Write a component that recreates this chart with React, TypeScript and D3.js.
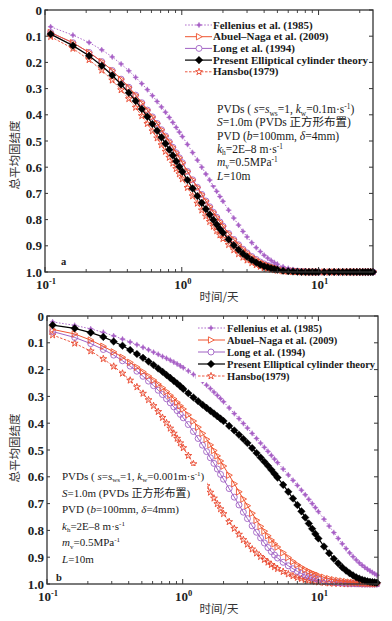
import React from "react";
import * as d3 from "d3";

// ---------- data ----------
const TIMES = [
  0.11, 0.16, 0.21, 0.26, 0.31, 0.36, 0.41, 0.46, 0.51, 0.56, 0.61, 0.66, 0.71, 0.76, 0.81, 0.86, 0.91, 0.96, 1.01,
  1.1, 1.2, 1.3, 1.4, 1.5, 1.6, 1.7, 1.8, 1.9, 2.0,
  2.2, 2.4, 2.6, 2.8, 3.0,
  3.25, 3.5, 3.75, 4.0, 4.25, 4.5, 4.75, 5.0,
  5.5, 6, 6.5, 7, 7.5, 8, 8.5, 9, 9.5, 10,
  11, 12, 13, 14, 15, 16, 17, 18, 19, 20, 21, 22, 23, 24, 25, 26, 27,
];

const LEGEND_LABELS = [
  "Fellenius et al. (1985)",
  "Abuel–Naga et al. (2009)",
  "Long et al. (1994)",
  "Present Elliptical cylinder theory",
  "Hansbo(1979)",
];

const Y_TICKS = [0, 0.1, 0.2, 0.3, 0.4, 0.5, 0.6, 0.7, 0.8, 0.9, 1.0];
const Y_TICK_LABELS = ["0", "0.1", "0.2", "0.3", "0.4", "0.5", "0.6", "0.7", "0.8", "0.9", "1.0"];
const X_MAJOR_TICKS = [0.1, 1, 10];
const X_MAJOR_EXPONENTS = ["-1", "0", "1"];

// panel a (k_w = 0.1 m/s)
const A_FELLENIUS = [
  0.064, 0.096, 0.124, 0.152, 0.179, 0.206, 0.232, 0.257, 0.281, 0.304, 0.327, 0.349, 0.370, 0.390, 0.410, 0.429, 0.448, 0.466, 0.483,
  0.513, 0.544, 0.573, 0.600, 0.626, 0.649, 0.672, 0.692, 0.712, 0.730,
  0.764, 0.794, 0.821, 0.845, 0.866,
  0.888, 0.907, 0.922, 0.936, 0.947, 0.956, 0.964, 0.970,
  0.980, 0.986, 0.991, 0.994, 0.996, 0.997, 0.998, 0.999, 0.999, 1,
  1, 1, 1, 1, 1, 1, 1, 1, 1, 1, 1, 1, 1, 1, 1, 1, 1,
];
const A_ABUEL = [
  0.086, 0.125, 0.162, 0.197, 0.231, 0.264, 0.295, 0.325, 0.354, 0.382, 0.408, 0.433, 0.457, 0.481, 0.503, 0.524, 0.545, 0.564, 0.583,
  0.616, 0.648, 0.677, 0.704, 0.729, 0.751, 0.772, 0.791, 0.809, 0.825,
  0.853, 0.876, 0.896, 0.913, 0.927,
  0.941, 0.952, 0.962, 0.969, 0.975, 0.980, 0.984, 0.987,
  0.992, 0.995, 0.996, 0.998, 0.999, 0.999, 1, 1, 1, 1,
  1, 1, 1, 1, 1, 1, 1, 1, 1, 1, 1, 1, 1, 1, 1, 1, 1,
];
const A_LONG = [
  0.086, 0.125, 0.162, 0.197, 0.231, 0.264, 0.295, 0.325, 0.354, 0.382, 0.408, 0.433, 0.457, 0.481, 0.503, 0.524, 0.545, 0.564, 0.583,
  0.616, 0.648, 0.677, 0.704, 0.729, 0.751, 0.772, 0.791, 0.809, 0.825,
  0.853, 0.876, 0.896, 0.913, 0.927,
  0.941, 0.952, 0.962, 0.969, 0.975, 0.980, 0.984, 0.987,
  0.992, 0.995, 0.996, 0.998, 0.999, 0.999, 1, 1, 1, 1,
  1, 1, 1, 1, 1, 1, 1, 1, 1, 1, 1, 1, 1, 1, 1, 1, 1,
];
const A_PRESENT = [
  0.092, 0.136, 0.175, 0.213, 0.249, 0.284, 0.316, 0.347, 0.378, 0.407, 0.435, 0.461, 0.486, 0.510, 0.533, 0.555, 0.577, 0.598, 0.617,
  0.649, 0.681, 0.710, 0.736, 0.760, 0.781, 0.801, 0.819, 0.836, 0.850,
  0.876, 0.898, 0.915, 0.930, 0.942,
  0.954, 0.964, 0.972, 0.978, 0.982, 0.986, 0.989, 0.991,
  0.995, 0.997, 0.998, 0.999, 1, 1, 1, 1, 1, 1,
  1, 1, 1, 1, 1, 1, 1, 1, 1, 1, 1, 1, 1, 1, 1, 1, 1,
];
const A_HANSBO = [
  0.102, 0.147, 0.190, 0.230, 0.268, 0.305, 0.339, 0.372, 0.404, 0.434, 0.462, 0.489, 0.515, 0.540, 0.563, 0.585, 0.606, 0.626, 0.645,
  0.678, 0.710, 0.738, 0.764, 0.787, 0.808, 0.826, 0.843, 0.859, 0.873,
  0.896, 0.916, 0.931, 0.944, 0.955,
  0.965, 0.973, 0.979, 0.984, 0.987, 0.990, 0.992, 0.994,
  0.997, 0.998, 0.999, 0.999, 1, 1, 1, 1, 1, 1,
  1, 1, 1, 1, 1, 1, 1, 1, 1, 1, 1, 1, 1, 1, 1, 1, 1,
];

// panel b (k_w = 0.001 m/s)
const B_FELLENIUS = [
  0.022, 0.035, 0.048, 0.061, 0.074, 0.086, 0.097, 0.107, 0.117, 0.126, 0.135, 0.143, 0.151, 0.158, 0.165, 0.172, 0.179, 0.186, 0.193,
  0.205, 0.218, 0.231, 0.244, 0.258, 0.271, 0.284, 0.296, 0.308, 0.320,
  0.343, 0.364, 0.383, 0.401, 0.418,
  0.438, 0.457, 0.474, 0.490, 0.505, 0.520, 0.534, 0.547,
  0.571, 0.593, 0.613, 0.632, 0.650, 0.667, 0.684, 0.700, 0.715, 0.730,
  0.758, 0.784, 0.808, 0.830, 0.850, 0.868, 0.884, 0.898, 0.910, 0.921, 0.930, 0.938, 0.945, 0.951, 0.957, 0.962, 0.967,
];
const B_ABUEL = [
  0.050, 0.067, 0.090, 0.113, 0.134, 0.154, 0.173, 0.191, 0.208, 0.224, 0.239, 0.254, 0.268, 0.282, 0.296, 0.309, 0.322, 0.335, 0.347,
  0.369, 0.392, 0.415, 0.438, 0.460, 0.481, 0.502, 0.522, 0.541, 0.560,
  0.594, 0.626, 0.656, 0.683, 0.708,
  0.736, 0.762, 0.785, 0.803, 0.820, 0.836, 0.850, 0.862,
  0.883, 0.901, 0.916, 0.928, 0.938, 0.946, 0.953, 0.959, 0.964, 0.968,
  0.975, 0.980, 0.984, 0.987, 0.989, 0.991, 0.993, 0.994, 0.995, 0.996, 0.997, 0.997, 0.998, 0.998, 0.999, 0.999, 0.999,
];
const B_LONG = [
  0.058, 0.080, 0.103, 0.125, 0.146, 0.167, 0.187, 0.206, 0.225, 0.243, 0.260, 0.277, 0.293, 0.309, 0.324, 0.339, 0.353, 0.367, 0.380,
  0.405, 0.431, 0.457, 0.482, 0.506, 0.529, 0.550, 0.571, 0.591, 0.609,
  0.644, 0.676, 0.705, 0.732, 0.756,
  0.783, 0.807, 0.828, 0.847, 0.864, 0.879, 0.892, 0.903,
  0.919, 0.932, 0.943, 0.953, 0.961, 0.967, 0.972, 0.976, 0.980, 0.983,
  0.988, 0.991, 0.993, 0.995, 0.996, 0.997, 0.998, 0.998, 0.999, 0.999, 1, 1, 1, 1, 1, 1, 1,
];
const B_PRESENT = [
  0.034, 0.046, 0.062, 0.078, 0.095, 0.111, 0.127, 0.142, 0.156, 0.170, 0.183, 0.196, 0.208, 0.220, 0.231, 0.242, 0.252, 0.262, 0.272,
  0.288, 0.304, 0.318, 0.331, 0.343, 0.354, 0.364, 0.374, 0.383, 0.392,
  0.410, 0.427, 0.443, 0.459, 0.474,
  0.493, 0.511, 0.528, 0.544, 0.559, 0.574, 0.589, 0.603,
  0.630, 0.656, 0.681, 0.705, 0.729, 0.752, 0.774, 0.794, 0.813, 0.830,
  0.860, 0.885, 0.906, 0.923, 0.938, 0.950, 0.960, 0.968, 0.975, 0.980, 0.984, 0.987, 0.990, 0.992, 0.993, 0.994, 0.995,
];
const B_HANSBO = [
  0.071, 0.102, 0.131, 0.160, 0.188, 0.214, 0.240, 0.265, 0.289, 0.313, 0.335, 0.357, 0.379, 0.399, 0.419, 0.438, 0.457, 0.474, 0.492,
  0.521, 0.552, 0.582, 0.609, 0.634, 0.658, 0.680, 0.701, 0.720, 0.738,
  0.768, 0.793, 0.815, 0.835, 0.852,
  0.870, 0.885, 0.898, 0.909, 0.919, 0.928, 0.936, 0.943,
  0.954, 0.963, 0.970, 0.976, 0.980, 0.984, 0.987, 0.989, 0.991, 0.993,
  0.995, 0.997, 0.998, 0.998, 0.999, 1, 1, 1, 1, 1, 1, 1, 1, 1, 1, 1, 1,
];

// ---------- styling ----------
type MarkerKind = "spark" | "tri" | "circle" | "diamond" | "star";
interface SeriesStyle {
  color: string;
  dash: string | null;
  width: number;
  marker: MarkerKind;
  r: number;
  filled: boolean;
}
const STYLES: SeriesStyle[] = [
  { color: "#a75fc6", dash: "1.6,1.6", width: 0.9, marker: "spark", r: 2.8, filled: true },
  { color: "#ef5530", dash: null, width: 1.0, marker: "tri", r: 3.2, filled: false },
  { color: "#a062c4", dash: null, width: 1.0, marker: "circle", r: 3.0, filled: false },
  { color: "#000000", dash: null, width: 1.2, marker: "diamond", r: 3.8, filled: true },
  { color: "#e9452b", dash: "2.5,1.5", width: 0.9, marker: "star", r: 3.6, filled: false },
];
const DRAW_ORDER = [4, 2, 1, 0, 3];

const SERIF = "'Liberation Serif', 'Times New Roman', 'Noto Sans CJK SC', serif";
const CJK = "'Noto Sans CJK SC', sans-serif";

function markerD(kind: MarkerKind, r: number): string {
  switch (kind) {
    case "spark":
      return `M0,${-r}L${r * 0.32},${-r * 0.32}L${r},0L${r * 0.32},${r * 0.32}L0,${r}L${-r * 0.32},${r * 0.32}L${-r},0L${-r * 0.32},${-r * 0.32}Z`;
    case "tri":
      return `M${-r * 0.8},${-r}L${r},0L${-r * 0.8},${r}Z`;
    case "circle":
      return `M${r},0A${r},${r} 0 1,1 ${-r},0A${r},${r} 0 1,1 ${r},0Z`;
    case "diamond":
      return `M0,${-r}L${r},0L0,${r}L${-r},0Z`;
    case "star":
    default:
      return d3.symbol().type(d3.symbolStar).size((r * r) / 0.8908)() || "";
  }
}

type Seg = [string, string?];
function RichText({ x, y, segs, size }: { x: number; y: number; segs: Seg[]; size: number }) {
  let cur = 0;
  const out: React.ReactNode[] = [];
  segs.forEach(([txt, st], i) => {
    const target = st === "sub" ? size * 0.22 : st === "sup" ? -size * 0.36 : 0;
    const dy = target - cur;
    cur = target;
    out.push(
      <tspan
        key={i}
        dy={dy || undefined}
        fontSize={st === "sub" || st === "sup" ? size * 0.64 : size}
        fontStyle={st === "i" ? "italic" : "normal"}
      >
        {txt}
      </tspan>
    );
  });
  return (
    <text x={x} y={y} fontFamily={SERIF} fontSize={size} fill="#1a1a1a">
      {out}
    </text>
  );
}

function noteLines(kw: string): Seg[][] {
  return [
    [["PVDs ( "], ["s", "i"], ["="], ["s", "i"], ["ws", "sub"], ["=1, "], ["k", "i"], ["w", "sub"], [`=${kw}m·s`], ["-1", "sup"], [")"]],
    [["S", "i"], ["=1.0m (PVDs  正方形布置)"]],
    [["PVD ("], ["b", "i"], ["=100mm, "], ["δ", "i"], ["=4mm)"]],
    [["k", "i"], ["h", "sub"], ["=2E–8 m·s"], ["-1", "sup"]],
    [["m", "i"], ["v", "sub"], ["=0.5MPa"], ["-1", "sup"]],
    [["L", "i"], ["=10m"]],
  ];
}

interface PanelCfg {
  tag: string;
  x0: number; x1: number; y0: number; y1: number; tMax: number;
  series: number[][];
  legend: { x0: number; x1: number; xm: number; tx: number; y: number; dy: number; fs: number; box: number[] };
  note: { x: number; y: number; dy: number; kw: string; box: number[]; fs: number };
  tagPos: [number, number];
  yLabelY: number;
  xLabelY: number;
}

const PANELS: PanelCfg[] = [
  {
    tag: "a", x0: 45, x1: 373, y0: 10, y1: 272, tMax: 25,
    series: [A_FELLENIUS, A_ABUEL, A_LONG, A_PRESENT, A_HANSBO],
    legend: { x0: 185, x1: 212, xm: 199, tx: 213, y: 25, dy: 11.7, fs: 11, box: [184, 17, 188, 62] },
    note: { x: 217, y: 113, dy: 13.3, kw: "0.1", box: [213, 101, 158, 84], fs: 11.5 },
    tagPos: [61, 264.5], yLabelY: 155, xLabelY: 301,
  },
  {
    tag: "b", x0: 47, x1: 378, y0: 316, y1: 584, tMax: 27.5,
    series: [B_FELLENIUS, B_ABUEL, B_LONG, B_PRESENT, B_HANSBO],
    legend: { x0: 198, x1: 225, xm: 211, tx: 227, y: 328, dy: 12, fs: 10.5, box: [196, 319, 181, 63] },
    note: { x: 62, y: 480, dy: 16.6, kw: "0.001", box: [58, 466, 149, 102], fs: 11 },
    tagPos: [56, 580.5], yLabelY: 448, xLabelY: 613,
  },
];

function Panel({ cfg }: { cfg: PanelCfg }) {
  const x = d3.scaleLog().domain([0.1, cfg.tMax]).range([cfg.x0, cfg.x1]);
  const y = d3.scaleLinear().domain([0, 1]).range([cfg.y0, cfg.y1]);
  const line = d3
    .line<[number, number]>()
    .x((d) => x(d[0]))
    .y((d) => y(d[1]));
  const minor = x.ticks().filter((t) => !X_MAJOR_TICKS.some((m) => Math.abs(m - t) < 1e-9));
  const L = cfg.legend;
  const N = cfg.note;

  return (
    <g>
      {/* curves */}
      {DRAW_ORDER.map((si) => {
        const st = STYLES[si];
        const pts: [number, number][] = TIMES.map((t, i) => [t, cfg.series[si][i]] as [number, number]).filter(
          (d) => d[0] <= cfg.tMax
        );
        const md = markerD(st.marker, st.r);
        return (
          <g key={si}>
            <path d={line(pts) || ""} fill="none" stroke={st.color} strokeWidth={st.width} strokeDasharray={st.dash || undefined} />
            {pts.map((d, i) => (
              <path
                key={i}
                d={md}
                transform={`translate(${x(d[0])},${y(d[1])})`}
                fill={st.filled ? st.color : "none"}
                stroke={st.color}
                strokeWidth={st.filled ? 0.4 : 0.9}
              />
            ))}
          </g>
        );
      })}

      {/* legend */}
      <rect x={L.box[0]} y={L.box[1]} width={L.box[2]} height={L.box[3]} fill="#ffffff" />
      {LEGEND_LABELS.map((lab, i) => {
        const st = STYLES[i];
        const yy = L.y + i * L.dy;
        return (
          <g key={lab}>
            <line x1={L.x0} x2={L.x1} y1={yy} y2={yy} stroke={st.color} strokeWidth={st.width} strokeDasharray={st.dash || undefined} />
            <path
              d={markerD(st.marker, st.r)}
              transform={`translate(${L.xm},${yy})`}
              fill={st.filled ? st.color : "#fff"}
              stroke={st.color}
              strokeWidth={st.filled ? 0.4 : 0.9}
            />
            <text x={L.tx} y={yy + 3.6} fontFamily={SERIF} fontWeight="bold" fontSize={L.fs} fill="#1a1a1a">
              {lab}
            </text>
          </g>
        );
      })}

      {/* note */}
      <rect x={N.box[0]} y={N.box[1]} width={N.box[2]} height={N.box[3]} fill="#ffffff" />
      {noteLines(N.kw).map((segs, i) => (
        <RichText key={i} x={N.x} y={N.y + i * N.dy} segs={segs} size={N.fs} />
      ))}
      <text x={cfg.tagPos[0]} y={cfg.tagPos[1]} fontFamily={SERIF} fontWeight="bold" fontSize={10.5} fill="#222">
        {cfg.tag}
      </text>

      {/* frame */}
      <rect x={cfg.x0} y={cfg.y0} width={cfg.x1 - cfg.x0} height={cfg.y1 - cfg.y0} fill="none" stroke="#333" strokeWidth={1.3} />

      {/* y ticks */}
      {Y_TICKS.map((v, i) => (
        <g key={v}>
          <line x1={cfg.x0} x2={cfg.x0 + 3} y1={y(v)} y2={y(v)} stroke="#333" strokeWidth={1} />
          <line x1={cfg.x1} x2={cfg.x1 - 4} y1={y(v)} y2={y(v)} stroke="#333" strokeWidth={1} />
          <text x={cfg.x0 - 3} y={y(v)} dy="0.35em" textAnchor="end" fontFamily={SERIF} fontWeight="bold" fontSize={13} fill="#222">
            {Y_TICK_LABELS[i]}
          </text>
        </g>
      ))}

      {/* x ticks */}
      {X_MAJOR_TICKS.map((t, i) => (
        <g key={t}>
          <line x1={x(t)} x2={x(t)} y1={cfg.y1} y2={cfg.y1 - 5} stroke="#333" strokeWidth={1} />
          <line x1={x(t)} x2={x(t)} y1={cfg.y0} y2={cfg.y0 + 5} stroke="#333" strokeWidth={1} />
          <text x={x(t) + 1} y={cfg.y1 + 17} textAnchor="middle" fontFamily={SERIF} fontWeight="bold" fontSize={13} fill="#222">
            10
            <tspan dy={-5} fontSize={8.5}>
              {X_MAJOR_EXPONENTS[i]}
            </tspan>
          </text>
        </g>
      ))}
      {minor.map((t) => (
        <g key={t}>
          <line x1={x(t)} x2={x(t)} y1={cfg.y1} y2={cfg.y1 - 3} stroke="#333" strokeWidth={0.9} />
          <line x1={x(t)} x2={x(t)} y1={cfg.y0} y2={cfg.y0 + 3} stroke="#333" strokeWidth={0.9} />
        </g>
      ))}

      {/* axis titles */}
      <text
        transform={`translate(15,${cfg.yLabelY}) rotate(-90)`}
        textAnchor="middle"
        dy="0.35em"
        fontFamily={CJK}
        fontSize={11.5}
        fill="#333"
      >
        总平均固结度
      </text>
      <text x={219} y={cfg.xLabelY} textAnchor="middle" fontFamily={CJK} fontSize={11.5} fill="#333">
        时间/天
      </text>
    </g>
  );
}

export default function App() {
  return (
    <svg
      width={392}
      height={621}
      viewBox="0 0 392 621"
      style={{ position: "absolute", left: 0, top: 0, background: "#fff" }}
    >
      <rect x={0} y={0} width={392} height={621} fill="#ffffff" />
      {PANELS.map((p) => (
        <Panel key={p.tag} cfg={p} />
      ))}
    </svg>
  );
}
